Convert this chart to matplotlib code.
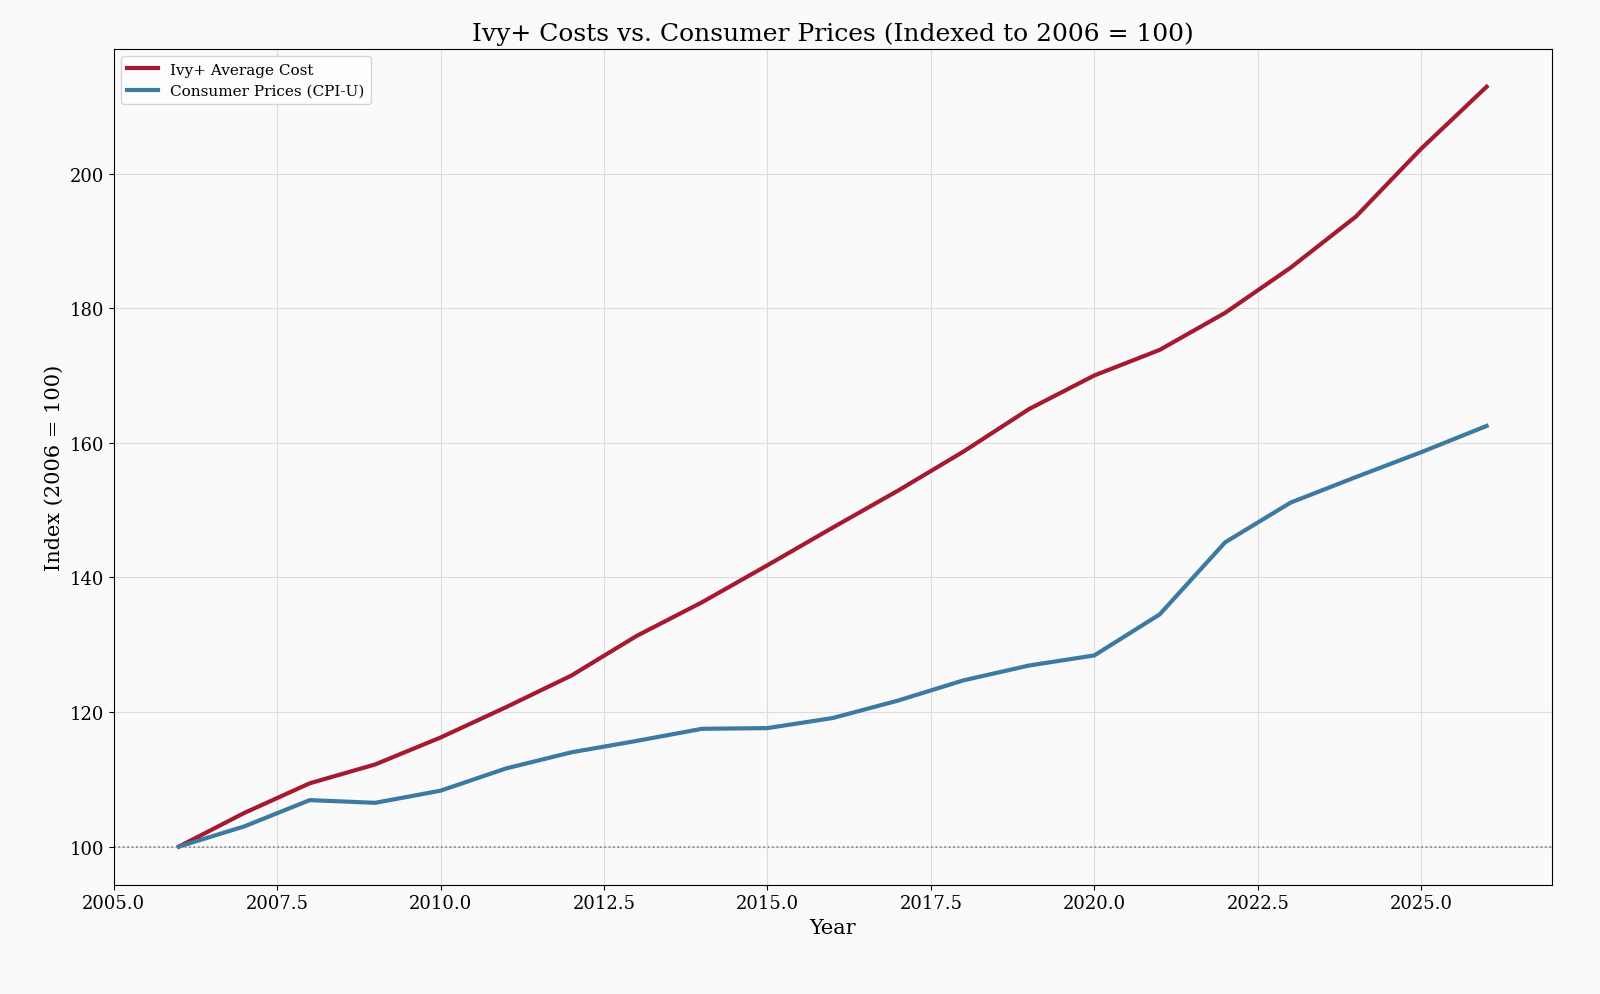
import matplotlib
matplotlib.use("Agg")
import matplotlib.pyplot as plt

years = list(range(2006, 2027))
ivy = [100, 105, 109.4, 112.2, 116.2, 120.7, 125.4, 131.3, 136.3, 141.8, 147.4,
       152.9, 158.7, 165.0, 170.0, 173.8, 179.3, 186.0, 193.6, 203.7, 212.9]
cpi = [100, 103.0, 106.9, 106.5, 108.3, 111.6, 114.0, 115.7, 117.5, 117.6, 119.1,
       121.7, 124.7, 126.9, 128.4, 134.5, 145.2, 151.1, 154.9, 158.6, 162.5]

plt.rcParams['font.family'] = ['DejaVu Serif']
fig, ax = plt.subplots(figsize=(16, 9.95), dpi=100)
fig.patch.set_facecolor('#fafafa')
ax.set_facecolor('#fafafa')
ax.plot(years, ivy, color='#a51931', lw=3, label='Ivy+ Average Cost')
ax.plot(years, cpi, color='#3d7aa2', lw=3, label='Consumer Prices (CPI-U)')
ax.axhline(100, color='gray', ls=':', lw=1.2)
ax.grid(True, color='#dddddd', lw=0.8)
ax.set_axisbelow(True)
ax.set_title('Ivy+ Costs vs. Consumer Prices (Indexed to 2006 = 100)', fontsize=18)
ax.set_xlabel('Year', fontsize=15)
ax.set_ylabel('Index (2006 = 100)', fontsize=15)
ax.tick_params(labelsize=13)
ax.legend(loc='upper left', fontsize=11)
fig.subplots_adjust(left=0.071, right=0.97, bottom=0.11, top=0.95)
fig.savefig('out.png')
